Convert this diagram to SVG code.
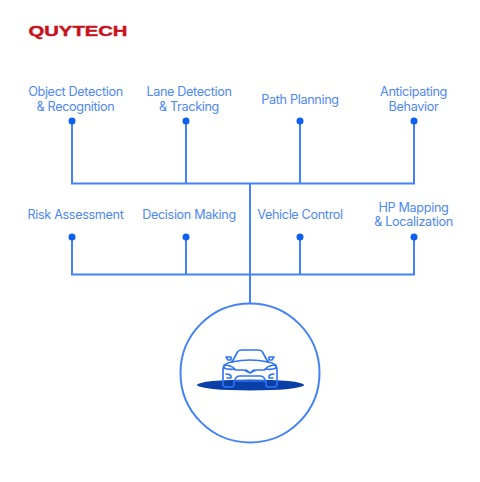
<svg xmlns="http://www.w3.org/2000/svg" width="480" height="482" viewBox="0 0 480 482">
<style>
.l{font-family:Inter,"Liberation Sans",sans-serif;font-size:12.6px;fill:#4d88f5;text-anchor:middle;letter-spacing:-.32px}
.c{fill:none;stroke:#4383f7;stroke-width:2}
.d{fill:#0f5ff0}
.car{fill:none;stroke:#2f74f5;stroke-width:1.6;stroke-linejoin:round;stroke-linecap:round}
</style>
<rect width="480" height="482" fill="#fff"/>
<text id="logo" x="28.500" y="35.500" style="font-family:'Liberation Sans',sans-serif;font-weight:700;font-size:14px;fill:#c8111c;stroke:#c8111c;stroke-width:.4" textLength="99" lengthAdjust="spacingAndGlyphs">QUYTECH</text>
<g id="connectors" class="c">
<path d="M72 121V183.500H414V121M186 121V183.500M300 121V183.500"/>
<path d="M72 237V274.500H414V237M186 237V274.500M300 237V274.500"/>
<path d="M250 183.500V304"/>
</g>
<g id="n1"><circle class="d" cx="72" cy="121" r="3.500"/><text class="l" x="75.500" y="96">Object Detection</text><text class="l" x="75.500" y="110.500">&amp; Recognition</text></g>
<g id="n2"><circle class="d" cx="186" cy="121" r="3.500"/><text class="l" x="189" y="96">Lane Detection</text><text class="l" x="189" y="110.500">&amp; Tracking</text></g>
<g id="n3"><circle class="d" cx="300" cy="121" r="3.500"/><text class="l" x="300" y="103.500">Path Planning</text></g>
<g id="n4"><circle class="d" cx="414" cy="121" r="3.500"/><text class="l" x="413.500" y="96">Anticipating</text><text class="l" x="413.500" y="110.500">Behavior</text></g>
<g id="n5"><circle class="d" cx="72" cy="237" r="3.500"/><text class="l" x="75.500" y="218.500">Risk Assessment</text></g>
<g id="n6"><circle class="d" cx="186" cy="237" r="3.500"/><text class="l" x="189" y="218.500">Decision Making</text></g>
<g id="n7"><circle class="d" cx="300" cy="237" r="3.500"/><text class="l" x="300" y="218.500">Vehicle Control</text></g>
<g id="n8"><circle class="d" cx="414" cy="237" r="3.500"/><text class="l" x="413.500" y="211.500">HP Mapping</text><text class="l" x="413.500" y="225.500">&amp; Localization</text></g>
<g id="hub">
<circle cx="250" cy="373" r="69.500" fill="#fff" stroke="#4383f7" stroke-width="2"/>
<ellipse cx="250.500" cy="385" rx="53.500" ry="5.500" fill="#0a3fa8"/>
<g class="car">
<path d="M232 362L237 353Q238 350 242 350H258Q262 350 263 353L268 362"/>
<path d="M232 362Q250 358 268 362"/>
<path d="M232 362Q223 363 223 370V384Q223 387 226 387H232Q234 387 234 384V381H266V384Q266 387 268 387H274Q277 387 277 384V370Q277 363 268 362"/>
<path d="M226 357H231V360H228ZM274 357H269V360H272Z"/>
<path d="M224 365Q231 365 235 369Q228 370 224 368ZM276 365Q269 365 265 369Q272 370 276 368Z"/>
<path d="M235 370H244L250 373L256 370H265M246 370L250 373L254 370"/>
<path d="M226 374Q230 374 231 376V378H227M274 374Q270 374 269 376V378H273"/>
<path d="M235 380Q236 376 240 376H260Q264 376 265 380"/>
</g>
</g>
</svg>
